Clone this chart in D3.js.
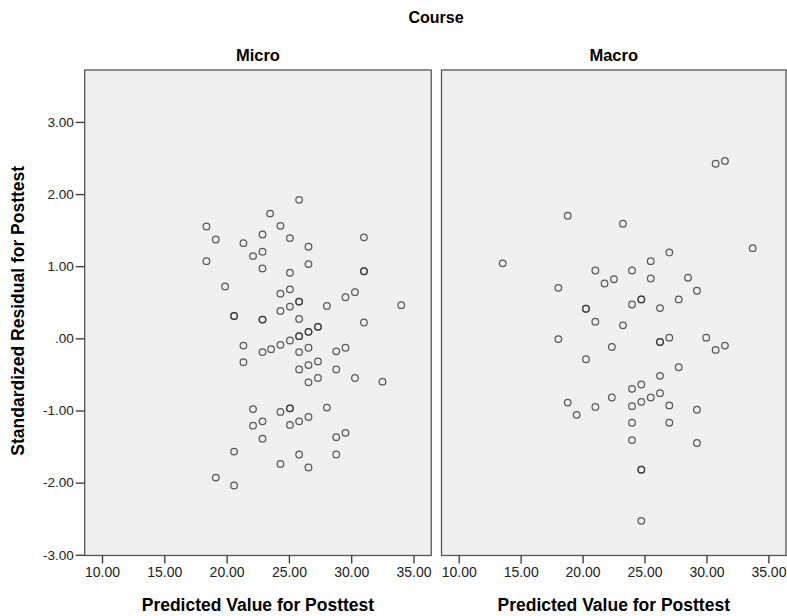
<!DOCTYPE html>
<html>
<head>
<meta charset="utf-8">
<script src="https://cdn.jsdelivr.net/npm/d3@7"></script>
<style>
    body { margin: 0; background: #fff; }
    svg { display: block; font-family: "Liberation Sans", Arial, sans-serif; }
</style>
</head>
<body>
<div id="chart"></div>
<script>
// Predicted value vs standardized residual, one panel per course
const courses = ['Micro', 'Macro'];

const microX = [18.38, 19.13, 21.35, 22.88, 23.49, 22.12, 22.88, 18.38, 22.88, 19.88,
    20.60, 20.60, 22.88, 22.88, 21.35, 22.88, 21.35, 25.82, 24.32, 25.08,
    31.02, 26.57, 26.57, 25.08, 31.02, 31.02, 25.08, 24.32, 25.82, 25.82,
    25.08, 24.32, 29.54, 30.30, 28.05, 34.02, 25.82, 31.02, 27.33, 27.33,
    26.57, 26.57, 25.82, 25.82, 25.08, 24.32, 23.57, 25.82, 26.57, 28.80,
    29.54, 25.82, 26.57, 27.33, 28.80, 26.57, 27.33, 30.30, 32.51, 22.12,
    24.32, 25.08, 25.08, 28.05, 22.12, 22.88, 25.08, 25.82, 26.57, 22.88,
    28.80, 29.54, 25.82, 28.80, 24.32, 26.57, 20.60, 19.13, 20.60];
const microY = [1.55, 1.37, 1.32, 1.44, 1.73, 1.14, 1.20, 1.07, 0.97, 0.72,
    0.31, 0.31, 0.26, 0.26, -0.10, -0.19, -0.33, 1.92, 1.56, 1.39,
    1.40, 1.27, 1.03, 0.91, 0.93, 0.93, 0.68, 0.62, 0.51, 0.51,
    0.44, 0.38, 0.57, 0.64, 0.45, 0.46, 0.27, 0.22, 0.16, 0.16,
    0.09, 0.09, 0.03, 0.03, -0.03, -0.09, -0.15, -0.19, -0.13, -0.18,
    -0.13, -0.43, -0.37, -0.32, -0.43, -0.61, -0.55, -0.55, -0.60, -0.98,
    -1.02, -0.97, -0.97, -0.96, -1.21, -1.15, -1.20, -1.15, -1.09, -1.39,
    -1.37, -1.31, -1.61, -1.61, -1.74, -1.79, -1.57, -1.93, -2.04];

const macroX = [18.80, 13.55, 21.03, 21.77, 18.04, 20.27, 20.27, 21.03, 18.04, 20.27,
    22.36, 30.74, 31.49, 23.26, 33.73, 27.00, 25.50, 23.99, 22.53, 25.50,
    28.51, 29.23, 27.76, 24.74, 24.74, 23.99, 26.25, 23.26, 26.25, 26.25,
    27.00, 29.98, 30.74, 31.49, 18.80, 19.52, 21.03, 22.36, 27.76, 26.25,
    24.74, 23.99, 24.74, 25.50, 26.25, 23.99, 27.00, 29.23, 23.99, 27.00,
    23.99, 29.23, 24.74, 24.74, 24.74];
const macroY = [1.70, 1.04, 0.94, 0.76, 0.70, 0.41, 0.41, 0.23, -0.01, -0.29,
    -0.12, 2.42, 2.46, 1.59, 1.25, 1.19, 1.07, 0.94, 0.82, 0.83,
    0.84, 0.66, 0.54, 0.54, 0.54, 0.47, 0.42, 0.18, -0.05, -0.05,
    0.01, 0.01, -0.16, -0.10, -0.89, -1.06, -0.95, -0.82, -0.40, -0.52,
    -0.64, -0.70, -0.88, -0.82, -0.76, -0.94, -0.93, -0.99, -1.17, -1.17,
    -1.41, -1.45, -1.82, -1.82, -2.53];

const xTicks = [10, 15, 20, 25, 30, 35];
const yTicks = [-3, -2, -1, 0, 1, 2, 3];

document.addEventListener('DOMContentLoaded', () => {
    drawChart();
});

function fmtTick(v) {
    // SPSS style: ".00" for zero, two decimals otherwise
    return v === 0 ? '.00' : v.toFixed(2);
}

function drawChart() {
    const width = 787;
    const height = 616;
    const top = 70;
    const bottom = 555.5;
    const panels = [
        { name: courses[0], x0: 84.7, x1: 431.2, xs: microX, ys: microY },
        { name: courses[1], x0: 441.5, x1: 786, xs: macroX, ys: macroY }
    ];

    const svg = d3.select('#chart')
        .append('svg')
        .attr('width', width)
        .attr('height', height);

    const y = d3.scaleLinear()
        .domain([-3.01, 3.72])
        .range([bottom, top]);

    // Column title
    svg.append('text')
        .attr('x', 436)
        .attr('y', 23)
        .attr('text-anchor', 'middle')
        .attr('font-size', 16)
        .attr('font-weight', 'bold')
        .text('Course');

    panels.forEach((p, i) => {
        const x = d3.scaleLinear()
            .domain([8.61, 36.42])
            .range([p.x0, p.x1]);

        svg.append('text')
            .attr('x', (p.x0 + p.x1) / 2)
            .attr('y', 61)
            .attr('text-anchor', 'middle')
            .attr('font-size', 16.5)
            .attr('font-weight', 'bold')
            .text(p.name);

        // Panel frame
        svg.append('rect')
            .attr('x', p.x0)
            .attr('y', top)
            .attr('width', p.x1 - p.x0)
            .attr('height', bottom - top)
            .attr('fill', '#f0f0f0')
            .attr('stroke', '#555')
            .attr('stroke-width', 1.3);

        // X axis
        const xAxis = svg.append('g')
            .attr('transform', `translate(0,${bottom})`)
            .call(d3.axisBottom(x)
                .tickValues(xTicks)
                .tickSize(8)
                .tickPadding(4)
                .tickFormat(fmtTick));
        xAxis.select('.domain').remove();
        xAxis.selectAll('line').attr('stroke', '#333').attr('stroke-width', 1.3);
        xAxis.selectAll('text')
            .attr('font-size', 14)
            .attr('font-family', '"Liberation Sans", Arial, sans-serif')
            .attr('fill', '#222');

        svg.append('text')
            .attr('x', (p.x0 + p.x1) / 2)
            .attr('y', 611)
            .attr('text-anchor', 'middle')
            .attr('font-size', 17.5)
            .attr('font-weight', 'bold')
            .text('Predicted Value for Posttest');

        if (i === 0) {
            const yAxis = svg.append('g')
                .attr('transform', `translate(${p.x0},0)`)
                .call(d3.axisLeft(y)
                    .tickValues(yTicks)
                    .tickSize(9)
                    .tickPadding(2)
                    .tickFormat(fmtTick));
            yAxis.select('.domain').remove();
            yAxis.selectAll('line').attr('stroke', '#333').attr('stroke-width', 1.3);
            yAxis.selectAll('text')
                .attr('font-size', 13.5)
                .attr('font-family', '"Liberation Sans", Arial, sans-serif')
                .attr('fill', '#222');
        }

        // Points
        const pts = p.xs.map((v, k) => [v, p.ys[k]]);
        svg.append('g')
            .selectAll('circle')
            .data(pts)
            .enter()
            .append('circle')
            .attr('cx', d => x(d[0]))
            .attr('cy', d => y(d[1]))
            .attr('r', 3.3)
            .attr('fill', 'none')
            .attr('stroke', '#333')
            .attr('stroke-opacity', 0.8)
            .attr('stroke-width', 1.25);
    });

    // Y axis title
    svg.append('text')
        .attr('transform', `translate(24,${(top + bottom) / 2 - 2}) rotate(-90)`)
        .attr('text-anchor', 'middle')
        .attr('font-size', 17.5)
        .attr('font-weight', 'bold')
        .text('Standardized Residual for Posttest');
}
</script>
</body>
</html>
